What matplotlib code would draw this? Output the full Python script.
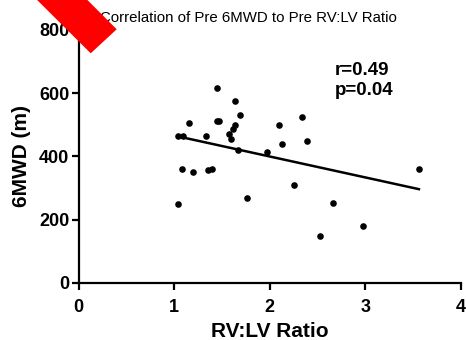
import matplotlib
matplotlib.use("Agg")
import matplotlib.pyplot as plt
import numpy as np
from matplotlib.patches import Polygon

plt.rcParams['font.family'] = ['Liberation Sans', 'DejaVu Sans']

# values
rv_lv = [1.04, 1.04, 1.09, 1.08, 1.16, 1.20, 1.33, 1.35, 1.40, 1.45, 1.45, 1.47,
         1.57, 1.59, 1.62, 1.64, 1.64, 1.67, 1.69, 1.76, 1.97, 2.10, 2.13, 2.25,
         2.34, 2.39, 2.53, 2.66, 2.97, 3.56]
mwd = [465, 249, 465, 360, 505, 351, 465, 358, 360, 616, 511, 511,
       471, 455, 485, 575, 499, 420, 531, 269, 415, 500, 439, 309,
       524, 450, 149, 253, 178, 360]
fit_slope = -66.3
fit_intercept = 532.0
stats_text = "r=0.49\np=0.04"
title = "Correlation of Pre 6MWD to Pre RV:LV Ratio"
xticks = [0, 1, 2, 3, 4]
yticks = [0, 200, 400, 600, 800]

W, H = 466, 340
fig = plt.figure(figsize=(W / 100, H / 100), dpi=100)
ax = fig.add_axes([78.5 / W, 1 - 282.7 / H, (461 - 78.5) / W, (282.7 - 29.9) / H])

ax.scatter(rv_lv, mwd, s=14, color='black', zorder=3, clip_on=False)
xl = np.array([min(rv_lv), max(rv_lv)])
ax.plot(xl, fit_slope * xl + fit_intercept, color='black', lw=1.8, zorder=2)

ax.set_xlim(0, 4)
ax.set_ylim(0, 800)
ax.set_xticks(xticks)
ax.set_yticks(yticks)
for s in ['top', 'right']:
    ax.spines[s].set_visible(False)
for s in ['left', 'bottom']:
    ax.spines[s].set_linewidth(1.6)
ax.tick_params(width=1.6, length=5, labelsize=13)
ax.tick_params(axis='x', pad=6.5)
ax.tick_params(axis='y', pad=1.5)
for lab in ax.get_xticklabels() + ax.get_yticklabels():
    lab.set_fontweight('bold')

ax.set_xlabel("RV:LV Ratio", fontsize=15, fontweight='bold', labelpad=4.5)
ax.set_ylabel("6MWD (m)", fontsize=15, fontweight='bold', labelpad=6)

ax.text(335 / W, 1 - 62 / H, stats_text, transform=fig.transFigure, fontsize=13.5,
        fontweight='bold', ha='left', va='top', linespacing=1.2)

fig.text(248 / W, 1 - 17.5 / H, title, fontsize=10.8, ha='center', va='center')

# red marker bar across the top left corner
pts = [(10, -27), (60.4, -27), (116.7, 29.3), (90.7, 53.3)]
bar = Polygon([(x / W, 1 - y / H) for x, y in pts], closed=True,
              transform=fig.transFigure, facecolor='#ff0000', edgecolor='none',
              zorder=10)
fig.patches.append(bar)

fig.savefig("out.png", dpi=100)
